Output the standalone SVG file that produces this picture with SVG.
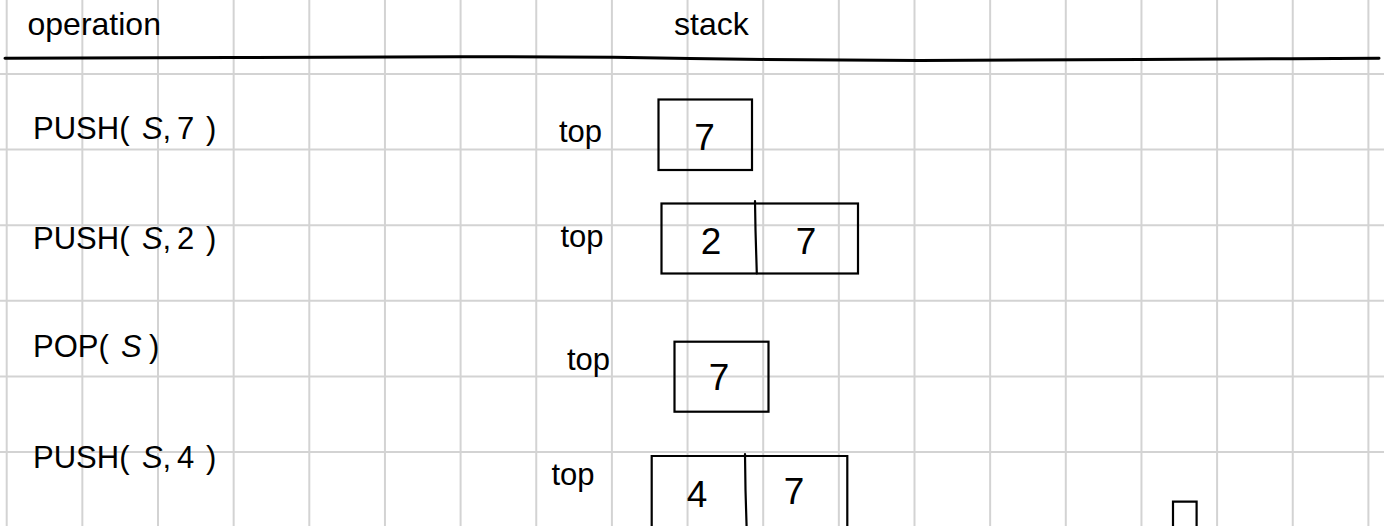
<svg xmlns="http://www.w3.org/2000/svg" width="1384" height="526" viewBox="0 0 1384 526">
<style>
.grid line{stroke:#d3d3d3;stroke-width:2}
.lbl{font-family:"Liberation Sans",Arial,sans-serif;font-size:31px;fill:#000}
.hdr{font-family:"Liberation Sans",Arial,sans-serif;font-size:32px;fill:#000}
.it{font-style:italic}
.box{fill:none;stroke:#000;stroke-width:2.2}
.div{fill:none;stroke:#000;stroke-width:2.2;stroke-linecap:round}
.dig{font-family:"Liberation Sans",Arial,sans-serif;font-size:37px;fill:#000;text-anchor:middle}
</style>
<rect width="1384" height="526" fill="#fff"/>
<g class="grid" id="grid">
<line x1="6.7" y1="0" x2="6.7" y2="526"/>
<line x1="82.35" y1="0" x2="82.35" y2="526"/>
<line x1="158" y1="0" x2="158" y2="526"/>
<line x1="233.65" y1="0" x2="233.65" y2="526"/>
<line x1="309.3" y1="0" x2="309.3" y2="526"/>
<line x1="384.95" y1="0" x2="384.95" y2="526"/>
<line x1="460.6" y1="0" x2="460.6" y2="526"/>
<line x1="536.25" y1="0" x2="536.25" y2="526"/>
<line x1="611.9" y1="0" x2="611.9" y2="526"/>
<line x1="687.55" y1="0" x2="687.55" y2="526"/>
<line x1="763.2" y1="0" x2="763.2" y2="526"/>
<line x1="838.85" y1="0" x2="838.85" y2="526"/>
<line x1="914.5" y1="0" x2="914.5" y2="526"/>
<line x1="990.15" y1="0" x2="990.15" y2="526"/>
<line x1="1065.8" y1="0" x2="1065.8" y2="526"/>
<line x1="1141.45" y1="0" x2="1141.45" y2="526"/>
<line x1="1217.1" y1="0" x2="1217.1" y2="526"/>
<line x1="1292.75" y1="0" x2="1292.75" y2="526"/>
<line x1="1368.4" y1="0" x2="1368.4" y2="526"/>
<line x1="0" y1="74" x2="1384" y2="74"/>
<line x1="0" y1="149.6" x2="1384" y2="149.6"/>
<line x1="0" y1="225.2" x2="1384" y2="225.2"/>
<line x1="0" y1="300.8" x2="1384" y2="300.8"/>
<line x1="0" y1="376.4" x2="1384" y2="376.4"/>
<line x1="0" y1="452" x2="1384" y2="452"/>
</g>
<g id="connectors">
<path d="M5,58.3 L230,57.6 L460,56.7 L613,57.2 L690,58.5 L765,59.4 L920,60.6 L1141,59.4 L1292,58.7 L1379,58.3" fill="none" stroke="#000" stroke-width="3" stroke-linecap="round" stroke-linejoin="round"/>
</g>
<g id="header-operation"><text class="hdr" x="27.5" y="35">operation</text></g>
<g id="header-stack"><text class="hdr" x="674" y="35">stack</text></g>

<g id="op1"><text class="lbl" y="139"><tspan x="33">PUSH(</tspan><tspan x="142" class="it">S</tspan><tspan x="162.5">,</tspan><tspan x="177">7</tspan><tspan x="206">)</tspan></text></g>
<g id="op2"><text class="lbl" y="248.5"><tspan x="33">PUSH(</tspan><tspan x="142" class="it">S</tspan><tspan x="162.5">,</tspan><tspan x="177">2</tspan><tspan x="206">)</tspan></text></g>
<g id="op3"><text class="lbl" y="357"><tspan x="33">POP(</tspan><tspan x="121" class="it">S</tspan><tspan x="149">)</tspan></text></g>
<g id="op4"><text class="lbl" y="467.5"><tspan x="33">PUSH(</tspan><tspan x="142" class="it">S</tspan><tspan x="162.5">,</tspan><tspan x="177">4</tspan><tspan x="206">)</tspan></text></g>

<g id="stack1">
<text class="lbl" x="559" y="142">top</text>
<rect class="box" x="658.5" y="99.5" width="93.5" height="70.5"/>
<text class="dig" x="704.5" y="150">7</text>
</g>
<g id="stack2">
<text class="lbl" x="560.5" y="247">top</text>
<rect class="box" x="661.5" y="203.5" width="196.5" height="70"/>
<path class="div" d="M755,201 L755.5,230 L756.8,273.5"/>
<text class="dig" x="711" y="253.5">2</text>
<text class="dig" x="806" y="254">7</text>
</g>
<g id="stack3">
<text class="lbl" x="567" y="370">top</text>
<rect class="box" x="674.5" y="341.7" width="94" height="70"/>
<text class="dig" x="719" y="389.5">7</text>
</g>
<g id="stack4">
<text class="lbl" x="551.5" y="485">top</text>
<path class="box" d="M651.7,530 L651.7,456 L847.3,456 L847.3,530"/>
<path class="div" d="M745,454 L745.5,490 L746.7,530"/>
<text class="dig" x="697" y="506.5">4</text>
<text class="dig" x="794" y="504">7</text>
</g>
<g id="small-box">
<path class="box" d="M1173,530 L1173,501.7 L1196.6,501.7 L1196.6,530"/>
</g>
</svg>
